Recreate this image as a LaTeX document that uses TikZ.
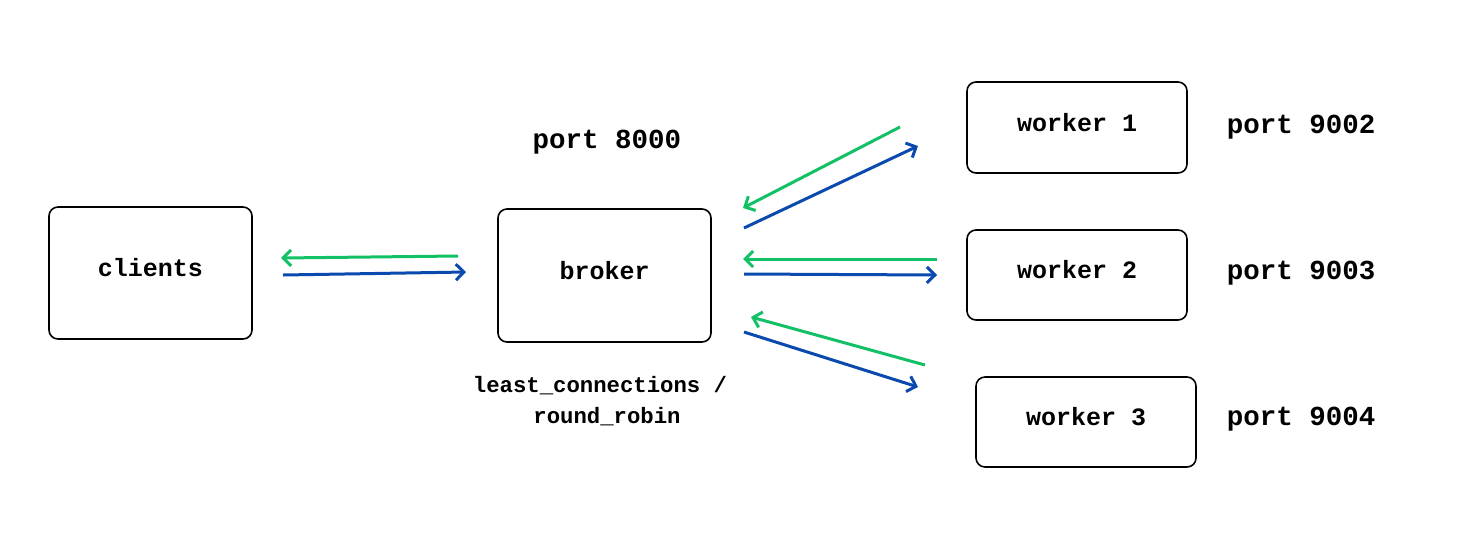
\documentclass[tikz,border=0pt]{standalone}
\usepackage{fontspec}
\setmonofont{Liberation Mono}
\usetikzlibrary{arrows.meta}
\definecolor{ret}{HTML}{12C066}
\definecolor{req}{HTML}{0A4AAE}
\tikzset{
  box/.style={draw=black, line width=1.6pt, rounded corners=9pt, inner sep=0pt},
  lbl/.style={font=\ttfamily\bfseries\fontsize{25}{28}\selectfont, inner sep=0pt, yshift=5pt},
  portlbl/.style={font=\ttfamily\bfseries\fontsize{27.5}{30}\selectfont, inner sep=0pt},
  small/.style={font=\ttfamily\bfseries\fontsize{22.3}{26}\selectfont, inner sep=0pt},
  back/.style={ret, line width=3pt, -{Straight Barb[length=8pt,width=16pt,line width=3pt]}},
  fwd/.style={req, line width=3pt, -{Straight Barb[length=8pt,width=16pt,line width=3pt]}},
}
\begin{document}
\begin{tikzpicture}[x=1pt,y=-1pt]
\useasboundingbox (0,0) rectangle (1482,558);
% boxes
\node[box, minimum width=203pt, minimum height=132pt] (clients) at (150.5,273) {};
\node[lbl] at (clients.center) {clients};
\node[box, minimum width=213pt, minimum height=133pt] (broker) at (604.5,275.5) {};
\node[lbl] at (broker.center) {broker};
\node[box, minimum width=220pt, minimum height=91pt] (w1) at (1077,127.5) {};
\node[lbl] at (w1.center) {worker 1};
\node[box, minimum width=220pt, minimum height=90pt] (w2) at (1077,275) {};
\node[lbl] at (w2.center) {worker 2};
\node[box, minimum width=220pt, minimum height=90pt] (w3) at (1086,422) {};
\node[lbl] at (w3.center) {worker 3};
% labels
\node[portlbl] (p8000) at (607,142) {port 8000};
\node[portlbl] (p9002) at (1301,127) {port 9002};
\node[portlbl] (p9003) at (1301,273) {port 9003};
\node[portlbl] (p9004) at (1301,419) {port 9004};
\node[small] (alg1) at (600,386) {least\_connections /};
\node[small] (alg2) at (607,417) {round\_robin};
% connector endpoints
\coordinate (c1s) at (458,256); \coordinate (c1e) at (281,258);
\coordinate (c2s) at (283,275); \coordinate (c2e) at (466,272);
\coordinate (a1s) at (900,127); \coordinate (a1e) at (743,208);
\coordinate (a2s) at (744,228); \coordinate (a2e) at (918,146);
\coordinate (b1s) at (937,259); \coordinate (b1e) at (743,259);
\coordinate (b2s) at (744,274); \coordinate (b2e) at (937,275);
\coordinate (d1s) at (925,365); \coordinate (d1e) at (751,317);
\coordinate (d2s) at (744,332); \coordinate (d2e) at (918,387);
\draw[back] (c1s) -- (c1e);
\draw[fwd] (c2s) -- (c2e);
\draw[back] (a1s) -- (a1e);
\draw[fwd] (a2s) -- (a2e);
\draw[back] (b1s) -- (b1e);
\draw[fwd] (b2s) -- (b2e);
\draw[back] (d1s) -- (d1e);
\draw[fwd] (d2s) -- (d2e);
\end{tikzpicture}
\end{document}
